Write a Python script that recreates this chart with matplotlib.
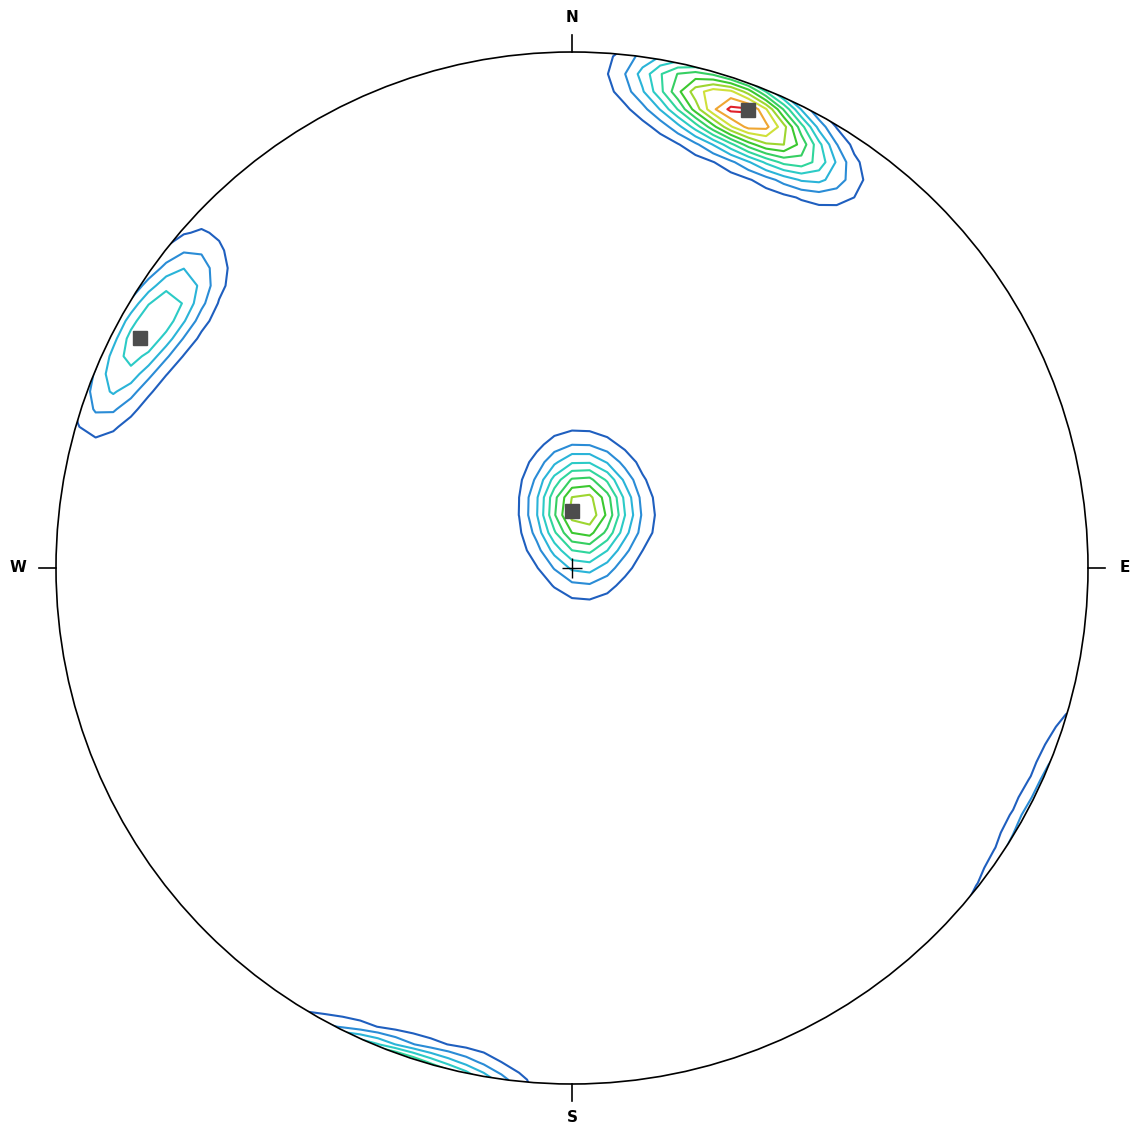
import numpy as np
import matplotlib
matplotlib.use("Agg")
import matplotlib.pyplot as plt
from matplotlib.patches import Circle

# poles to planes, lower hemisphere (trend, plunge in degrees)
set1_trend = [21, 19, 23, 17, 25, 14, 28, 20, 22, 12, 30, 24, 18, 26, 16,
              27, 15, 21, 33, 9, 23, 19, 21, 29, 13, 20, 22, 31, 11, 24,
              14, 10, 18, 16]
set1_plunge = [6, 5, 7, 4, 8, 3, 9, 9, 3, 2, 10, 5, 7, 11, 6,
               6, 1, 2, 9, 3, 10, 8, 5, 7, 5, 4, 7, 12, 0.5, 13,
               10, 7, 12, 9]

set2_trend = [298, 301, 292, 304, 289, 307, 294, 300, 291, 305, 299,
              300, 297, 306, 310]
set2_plunge = [6, 8, 3, 9, 2, 11, 7, 11, 6, 4, 1,
               5, 6, 8, 4]

set3_trend = [9.8, 27.4, 350.7, 8.5, 19.7, 45.0, 339.0, 73.3, 358.9, 21.8,
              345.1, 17.7, 20.4, 358.0, 49.5, 11.3, 21.0, 1.6, 108.4, 356.3,
              10.5]
set3_plunge = [81.1, 78.8, 79.3, 74.1, 87.7, 82.4, 85.6, 86.7, 73.0, 74.7,
               80.2, 82.6, 77.3, 82.1, 78.5, 80.4, 81.2, 79.0, 88.0, 75.5,
               81.4]

# mean poles of the three sets
mean_trend = [21, 298, 0]
mean_plunge = [5.6, 5.7, 81]

kappa = 200
unit = 1.265   # kernel sum per contour interval
levels = [1, 2, 3, 4, 5, 6, 7, 8, 9, 10, 11]
level_colors = ['#1f5fbf', '#2a8cd6', '#2ab4d8', '#2ccbc6', '#30d69c', '#36cf62',
                '#3cc830', '#9ed630', '#cfe03a', '#efa632', '#e0202a']


def vec(trend, plunge):
    t = np.radians(trend)
    p = np.radians(plunge)
    return np.stack([np.cos(p) * np.sin(t), np.cos(p) * np.cos(t), np.sin(p)], axis=-1)


def proj(trend, plunge):
    # equal-area (Schmidt) projection, unit primitive
    t = np.radians(np.asarray(trend, float))
    r = np.sqrt(2) * np.sin(np.radians(90 - np.asarray(plunge, float)) / 2)
    return r * np.sin(t), r * np.cos(t)


g = np.linspace(-1.06, 1.06, 63)
X, Y = np.meshgrid(g, g)
R = np.clip(np.hypot(X, Y), 0, np.sqrt(2) - 1e-6)
grid_plunge = 90 - np.degrees(2 * np.arcsin(R / np.sqrt(2)))
grid_trend = np.degrees(np.arctan2(X, Y))
G = vec(grid_trend, grid_plunge)

poles = vec(np.array(set1_trend + set2_trend + set3_trend, float),
            np.array(set1_plunge + set2_plunge + set3_plunge, float))
dens = np.zeros_like(X)
for p in poles:
    dens += np.exp(kappa * (np.abs(G @ p) - 1))
dens = dens / unit

fig = plt.figure(figsize=(11.31, 11.28), dpi=100)
ax = fig.add_axes([0, 0, 1, 1])
ax.set_xlim(-572 / 516, (1131 - 572) / 516)
ax.set_ylim(-(1128 - 568) / 516, 568 / 516)
ax.axis('off')

prim = Circle((0, 0), 1, transform=ax.transData, facecolor='none')
cs = ax.contour(X, Y, dens, levels=levels, colors=level_colors, linewidths=1.5)
cs.set_clip_path(prim)

ax.add_patch(Circle((0, 0), 1, facecolor='none', edgecolor='black', lw=1.2, zorder=3))

tk = 17 / 516
ax.plot([0, 0], [1, 1 + tk], color='black', lw=1.2)
ax.plot([0, 0], [-1, -1 - tk], color='black', lw=1.2)
ax.plot([-1, -1 - tk], [0, 0], color='black', lw=1.2)
ax.plot([1, 1 + tk], [0, 0], color='black', lw=1.2)
ax.plot([0], [0], marker='+', ms=14, mew=1.0, color='black')

lab = dict(fontsize=11, fontweight='bold', ha='center', va='center')
ax.text(0, 550 / 516, 'N', **lab)
ax.text(0, -550 / 516, 'S', **lab)
ax.text(-554 / 516, 0, 'W', **lab)
ax.text(553 / 516, 0, 'E', **lab)

mx, my = proj(mean_trend, mean_plunge)
ax.plot(mx, my, 's', ms=10, color='#4d4d4d', zorder=4, linestyle='none')

fig.savefig('out.png', dpi=100)
